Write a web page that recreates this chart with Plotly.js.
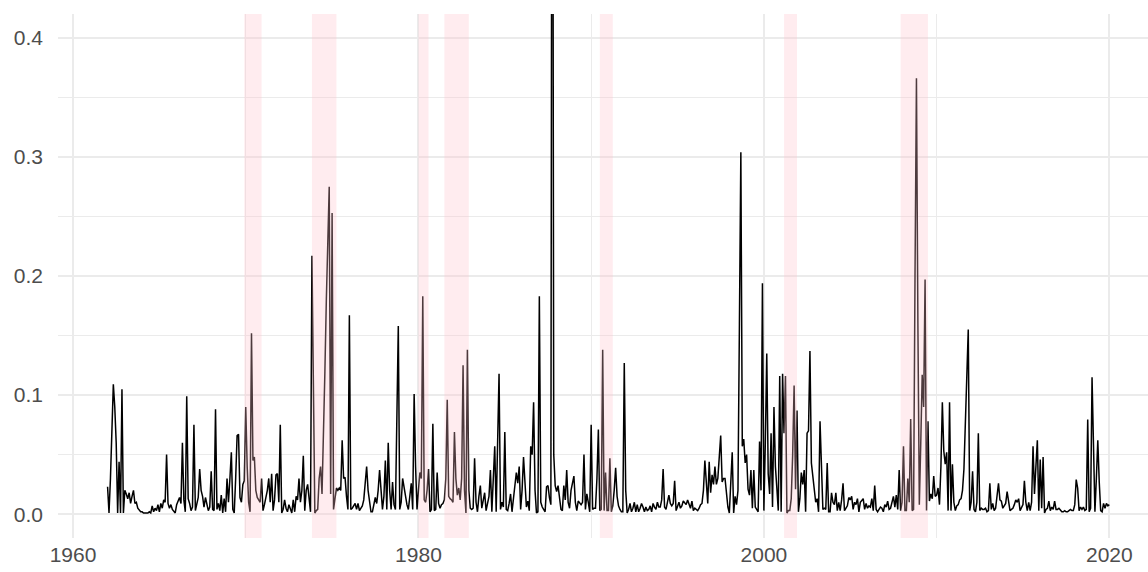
<!DOCTYPE html>
<html>
<head>
<meta charset="utf-8">
<script src="https://cdn.plot.ly/plotly-3.0.1.min.js"></script>
<style>
  html, body { margin: 0; padding: 0; background: #ffffff; }
  #chart { width: 1148px; height: 572px; }
</style>
</head>
<body>
<div id="chart"></div>
<script>
// Monthly series, first value is January of startYear.
const startYear = 1962;

const vol1960s = [
  0.023, 0.001, 0.03, 0.07, 0.109, 0.09, 0.06, 0.001, 0.044, 0.001, 0.105, 0.001,
  0.02, 0.017, 0.013, 0.018, 0.009, 0.015, 0.02, 0.009, 0.01, 0.005, 0.003, 0.002,
  0.002, 0.001, 0.001, 0.001, 0.001, 0.002, 0.001, 0.007, 0.002, 0.005, 0.003, 0.008,
  0.002, 0.009, 0.005, 0.012, 0.01, 0.05, 0.009, 0.005, 0.008, 0.004, 0.002, 0.001,
  0.008, 0.012, 0.014, 0.009, 0.06, 0.012, 0.002, 0.099, 0.013, 0.009, 0.003, 0.006,
  0.075, 0.003, 0.009, 0.014, 0.038, 0.02, 0.015, 0.006, 0.014, 0.009, 0.003, 0.006,
  0.036, 0.004, 0.003, 0.088, 0.004, 0.009, 0.003, 0.016, 0.001, 0.013, 0.002, 0.03,
  0.01, 0.03, 0.052, 0.004, 0.001, 0.03, 0.066, 0.067, 0.014, 0.01, 0.025, 0.028
];

const vol1970s = [
  0.09, 0.04, 0.01, 0.002, 0.152, 0.045, 0.048, 0.02, 0.014, 0.012, 0.01, 0.03,
  0.003, 0.008, 0.014, 0.02, 0.03, 0.01, 0.034, 0.003, 0.012, 0.033, 0.034, 0.01,
  0.075, 0.001, 0.004, 0.012, 0.005, 0.002, 0.008, 0.004, 0.001, 0.012, 0.002, 0.015,
  0.012, 0.03, 0.01, 0.02, 0.049, 0.003, 0.02, 0.025, 0.012, 0.002, 0.217, 0.09,
  0.001, 0.003, 0.004, 0.03, 0.04, 0.017, 0.06, 0.12, 0.18, 0.235, 0.275, 0.017,
  0.253, 0.004, 0.015, 0.022, 0.02, 0.022, 0.02, 0.062, 0.03, 0.031, 0.015, 0.004,
  0.167, 0.004, 0.005, 0.007, 0.009, 0.004, 0.009, 0.003, 0.005, 0.007, 0.012, 0.028,
  0.04, 0.02, 0.008, 0.002, 0.002, 0.01, 0.014, 0.009, 0.02, 0.037, 0.02, 0.004,
  0.015, 0.045, 0.004, 0.06, 0.02, 0.004, 0.027, 0.008, 0.004, 0.08, 0.158, 0.004,
  0.01, 0.03, 0.022, 0.017, 0.008, 0.004, 0.015, 0.026, 0.004, 0.101, 0.04, 0.004
];

const vol1980s = [
  0.02, 0.035, 0.03, 0.183, 0.012, 0.01, 0.02, 0.038, 0.002, 0.004, 0.076, 0.003,
  0.004, 0.035, 0.009, 0.005, 0.008, 0.009, 0.012, 0.03, 0.096, 0.015, 0.013, 0.012,
  0.01, 0.069, 0.03, 0.016, 0.022, 0.012, 0.03, 0.125, 0.02, 0.001, 0.138, 0.02,
  0.005, 0.004, 0.005, 0.047, 0.01, 0.002, 0.015, 0.024, 0.005, 0.012, 0.018, 0.003,
  0.01, 0.015, 0.037, 0.002, 0.03, 0.057, 0.002, 0.05, 0.118, 0.004, 0.01, 0.006,
  0.069, 0.004, 0.003, 0.009, 0.017, 0.002, 0.015, 0.024, 0.035, 0.026, 0.04, 0.004,
  0.02, 0.048, 0.02, 0.006, 0.011, 0.003, 0.057, 0.05, 0.094, 0.02, 0.001, 0.002,
  0.183, 0.01, 0.006, 0.004, 0.002, 0.023, 0.024, 0.014, 0.008, 0.9, 0.05, 0.024,
  0.019, 0.024, 0.014, 0.004, 0.003, 0.024, 0.012, 0.037, 0.01, 0.005, 0.02, 0.025,
  0.032, 0.01, 0.003, 0.011, 0.009, 0.008, 0.01, 0.05, 0.004, 0.017, 0.01, 0.002
];

const vol1990s = [
  0.075, 0.004, 0.005, 0.005, 0.03, 0.071, 0.003, 0.004, 0.138, 0.003, 0.035, 0.003,
  0.003, 0.047, 0.002, 0.007, 0.02, 0.039, 0.015, 0.007, 0.004, 0.002, 0.002, 0.127,
  0.02, 0.001, 0.004, 0.009, 0.002, 0.005, 0.01, 0.002, 0.008, 0.002, 0.005, 0.009,
  0.006, 0.002, 0.006, 0.003, 0.004, 0.007, 0.002, 0.009, 0.006, 0.004, 0.01, 0.006,
  0.006, 0.012, 0.038, 0.006, 0.004, 0.012, 0.016, 0.009, 0.007, 0.009, 0.028, 0.003,
  0.006, 0.01, 0.005, 0.007, 0.011, 0.009, 0.008, 0.012, 0.009, 0.005, 0.011, 0.003,
  0.005, 0.004, 0.003, 0.005, 0.008, 0.009, 0.02, 0.045, 0.027, 0.009, 0.044, 0.018,
  0.033, 0.025, 0.04, 0.025, 0.03, 0.048, 0.066, 0.027, 0.03, 0.03, 0.016, 0.006,
  0.001, 0.03, 0.052, 0.001, 0.015, 0.008, 0.02, 0.16, 0.304, 0.057, 0.063, 0.043,
  0.05, 0.021, 0.016, 0.037, 0.005, 0.037, 0.006, 0.004, 0.002, 0.061, 0.02, 0.194
];

const vol2000s = [
  0.003, 0.06, 0.135, 0.034, 0.017, 0.068, 0.006, 0.09, 0.04, 0.022, 0.003, 0.116,
  0.002, 0.118, 0.068, 0.116, 0.001, 0.003, 0.003, 0.013, 0.05, 0.108, 0.021, 0.087,
  0.002, 0.013, 0.035, 0.025, 0.037, 0.002, 0.068, 0.07, 0.137, 0.043, 0.03, 0.022,
  0.01, 0.013, 0.002, 0.078, 0.043, 0.004, 0.005, 0.004, 0.043, 0.002, 0.002, 0.018,
  0.01, 0.008, 0.018, 0.003, 0.01, 0.003, 0.012, 0.026, 0.003, 0.005, 0.007, 0.014,
  0.012, 0.015, 0.004, 0.01, 0.008, 0.013, 0.002, 0.01, 0.012, 0.013, 0.004, 0.009,
  0.005, 0.007, 0.006, 0.013, 0.003, 0.024, 0.004, 0.002, 0.004, 0.006, 0.005, 0.002,
  0.008, 0.006, 0.011, 0.004, 0.005, 0.009, 0.015, 0.006, 0.016, 0.004, 0.037, 0.003,
  0.01, 0.057, 0.003, 0.003, 0.03, 0.01, 0.08, 0.003, 0.004, 0.2, 0.366, 0.16,
  0.008, 0.06, 0.117, 0.09, 0.197, 0.003, 0.078, 0.011, 0.017, 0.013, 0.032, 0.015
];

const vol2010s = [
  0.016, 0.022, 0.008, 0.04, 0.094, 0.053, 0.042, 0.052, 0.003, 0.094, 0.003, 0.042,
  0.01, 0.003, 0.007, 0.008, 0.012, 0.013, 0.02, 0.038, 0.075, 0.115, 0.155, 0.003,
  0.01, 0.036, 0.004, 0.002, 0.01, 0.068, 0.003, 0.005, 0.004, 0.004, 0.005, 0.002,
  0.003, 0.026, 0.004, 0.009, 0.003, 0.005, 0.015, 0.026, 0.012, 0.011, 0.005, 0.007,
  0.009, 0.019, 0.01, 0.003, 0.004, 0.005, 0.008, 0.012, 0.01, 0.013, 0.003, 0.005,
  0.008, 0.028, 0.01, 0.003, 0.01, 0.003, 0.01, 0.057, 0.017, 0.04, 0.062, 0.003,
  0.046, 0.005, 0.048, 0.001, 0.004, 0.005, 0.011, 0.003, 0.006, 0.004, 0.011, 0.004,
  0.004, 0.005, 0.003, 0.002, 0.002, 0.003, 0.002, 0.002, 0.003, 0.004, 0.003, 0.003,
  0.008, 0.029, 0.022, 0.003, 0.006, 0.004, 0.006, 0.003, 0.004, 0.0795, 0.002, 0.005,
  0.115, 0.042, 0.002, 0.03, 0.062, 0.027, 0.003, 0.002, 0.009, 0.005, 0.009, 0.007
];

const vol2020s = [0.008];

// NBER recessions, first and last month
const recessionStart = ["1969-12", "1973-11", "1980-01", "1981-07", "1990-07", "2001-03", "2007-12"];
const recessionEnd   = ["1970-11", "1975-03", "1980-07", "1982-11", "1991-03", "2001-11", "2009-06"];

const xTickValues = [1960, 1980, 2000, 2020];
const xTickLabels = ["1960", "1980", "2000", "2020"];
const yTickValues = [0, 0.1, 0.2, 0.3, 0.4];
const yTickLabels = ["0.0", "0.1", "0.2", "0.3", "0.4"];

// ---- build the trace ----
const values = [].concat(vol1960s, vol1970s, vol1980s, vol1990s, vol2000s, vol2010s, vol2020s);
const dates = values.map((_, i) => startYear + i / 12);

function monthToYear(s, endOfMonth) {
  const [y, m] = s.split("-").map(Number);
  return y + (m - 1 + (endOfMonth ? 1 : 0)) / 12;
}

const shapes = recessionStart.map((s, i) => ({
  type: "rect",
  xref: "x", yref: "paper",
  x0: monthToYear(s, false),
  x1: monthToYear(recessionEnd[i], true),
  y0: 0, y1: 1,
  fillcolor: "rgba(255,192,203,0.3)",
  line: { width: 0 },
  layer: "above"
}));

const gridColor = "#EBEBEB";
const tickFont = { family: "Liberation Sans, Arial, sans-serif", size: 21, color: "#4D4D4D" };

const trace = {
  x: dates,
  y: values,
  type: "scatter",
  mode: "lines",
  line: { color: "#000000", width: 1.5 },
  hoverinfo: "skip"
};

const layout = {
  width: 1148,
  height: 572,
  margin: { l: 58, r: 0, t: 14, b: 34, pad: 0 },
  paper_bgcolor: "#ffffff",
  plot_bgcolor: "#ffffff",
  showlegend: false,
  shapes: shapes,
  xaxis: {
    range: [1959.13, 2022.24],
    tickmode: "array",
    tickvals: xTickValues,
    ticktext: xTickLabels,
    showgrid: true,
    gridcolor: gridColor,
    gridwidth: 2,
    zeroline: false,
    showline: false,
    ticks: "",
    ticklabelstandoff: 2,
    tickfont: tickFont,
    minor: { tickmode: "linear", tick0: 1960, dtick: 10, showgrid: true, gridcolor: gridColor, gridwidth: 1, ticks: "" },
    fixedrange: true
  },
  yaxis: {
    range: [-0.02, 0.42],
    tickmode: "array",
    tickvals: yTickValues,
    ticktext: yTickLabels,
    showgrid: true,
    gridcolor: gridColor,
    gridwidth: 2,
    zeroline: false,
    showline: false,
    ticks: "",
    ticklabelstandoff: 14,
    tickfont: tickFont,
    minor: { tickmode: "linear", tick0: 0, dtick: 0.05, showgrid: true, gridcolor: gridColor, gridwidth: 1, ticks: "" },
    fixedrange: true
  }
};

Plotly.newPlot("chart", [trace], layout, { staticPlot: true, displayModeBar: false });
</script>
</body>
</html>
